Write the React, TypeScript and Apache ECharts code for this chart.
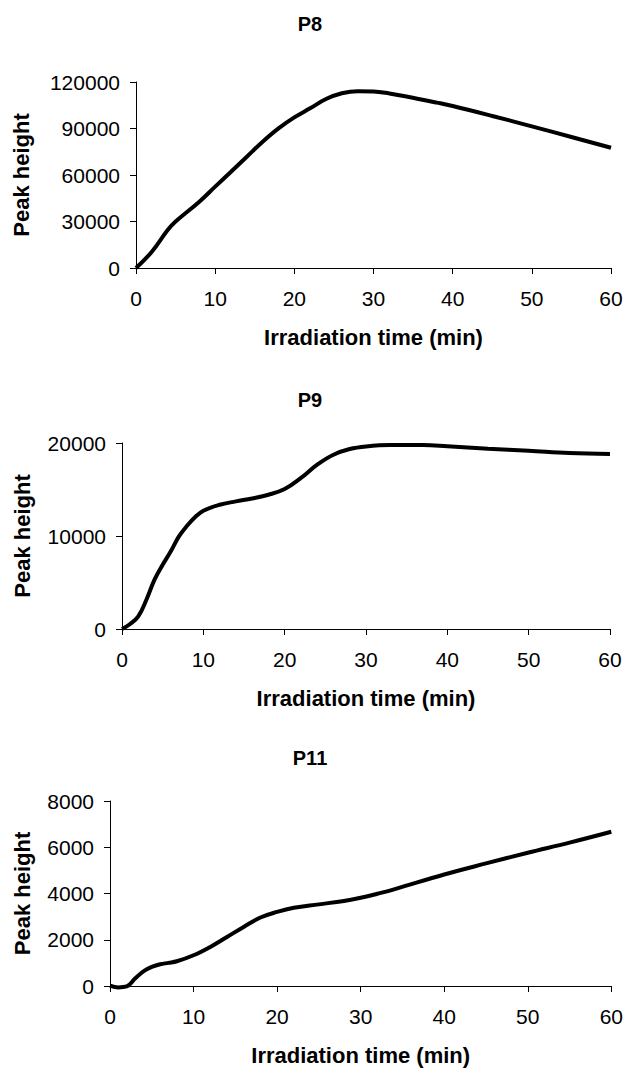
import React, { useEffect, useRef } from "react";
import * as echarts from "echarts";

const titles = ["P8", "P9", "P11"];
const xAxisName = "Irradiation time (min)";
const yAxisName = "Peak height";

const p8Time = [0, 2, 4, 5, 8, 10, 12, 14, 16, 18, 20, 22, 24, 26, 28, 30, 32, 34, 38, 40, 45, 50, 55, 60];
const p8Height = [0, 10500, 24500, 30000, 42800, 52500, 62100, 71800, 81500, 90100, 97200, 103000, 109000, 112700, 114100, 113900, 112600, 110800, 106700, 104500, 98100, 91400, 84500, 77600];

const p9Time = [0, 1, 2, 3, 4, 5, 6, 7, 8, 9, 10, 12, 14, 16, 18, 20, 22, 24, 26, 28, 30, 33, 37, 40, 45, 50, 55, 60];
const p9Height = [0, 540, 1360, 3150, 5300, 6900, 8350, 9960, 11100, 12040, 12720, 13360, 13720, 14040, 14440, 15050, 16240, 17670, 18740, 19350, 19630, 19780, 19780, 19650, 19380, 19170, 18930, 18820];

const p11Time = [0, 1, 2, 3, 4, 5, 6, 7, 8, 10, 12, 14, 16, 18, 20, 22, 25, 28, 30, 32, 34, 40, 45, 50, 55, 60];
const p11Height = [20, -60, -20, 320, 637, 823, 940, 1000, 1070, 1330, 1690, 2120, 2555, 2960, 3205, 3380, 3530, 3680, 3815, 3990, 4180, 4823, 5300, 5760, 6200, 6670];

const yMax = [120000, 20000, 8000];
const yInterval = [30000, 10000, 2000];

export default function App() {
  const ref = useRef<HTMLDivElement>(null);
  useEffect(() => {
    if (!ref.current) return;
    const chart = echarts.init(ref.current, null, { renderer: "svg" });
    const font = "'Liberation Sans', Arial, Helvetica, sans-serif";
    const grids = [
      { left: 136, right: 15, top: 82, bottom: 800 },
      { left: 122, right: 16, top: 443, bottom: 439 },
      { left: 110, right: 14, top: 801, bottom: 82 },
    ];
    const yNameGap = [104, 89, 77];
    const titleY = [24, 400, 758];
    const seriesData = [
      p8Time.map((t, i) => [t, p8Height[i]]),
      p9Time.map((t, i) => [t, p9Height[i]]),
      p11Time.map((t, i) => [t, p11Height[i]]),
    ];
    const axisLine = { show: true, lineStyle: { color: "#000", width: 1 } };
    const option: any = {
      animation: false,
      backgroundColor: "#fff",
      grid: grids.map((g) => ({ ...g, containLabel: false })),
      xAxis: grids.map((_, i) => ({
        type: "value",
        gridIndex: i,
        min: 0,
        max: 60,
        interval: 10,
        name: xAxisName,
        nameLocation: "middle",
        nameGap: 58,
        nameTextStyle: { fontFamily: font, fontWeight: "bold", fontSize: 22, color: "#000" },
        axisLine,
        axisTick: { show: true, length: 6, lineStyle: { color: "#000" } },
        axisLabel: { margin: 20, fontFamily: font, fontSize: 21, color: "#000", formatter: (v: number) => String(v) },
        splitLine: { show: false },
      })),
      yAxis: grids.map((_, i) => ({
        type: "value",
        gridIndex: i,
        min: 0,
        max: yMax[i],
        interval: yInterval[i],
        name: yAxisName,
        nameLocation: "middle",
        nameGap: yNameGap[i],
        nameRotate: 90,
        nameTextStyle: { fontFamily: font, fontWeight: "bold", fontSize: 22, color: "#000" },
        axisLine,
        axisTick: { show: true, length: 6, lineStyle: { color: "#000" } },
        axisLabel: { margin: 16, fontFamily: font, fontSize: 21, color: "#000", formatter: (v: number) => String(v) },
        splitLine: { show: false },
      })),
      series: seriesData.map((d, i) => ({
        type: "line",
        xAxisIndex: i,
        yAxisIndex: i,
        data: d,
        smooth: 0.4,
        showSymbol: false,
        symbol: "none",
        clip: false,
        lineStyle: { color: "#000", width: 4 },
      })),
      graphic: titles.map((t, i) => ({
        type: "text",
        x: 310,
        y: titleY[i],
        style: {
          text: t,
          fontFamily: font,
          fontWeight: "bold",
          fontSize: 20,
          fill: "#000",
          textAlign: "center",
          textVerticalAlign: "middle",
        },
      })),
    };
    chart.setOption(option);
    return () => chart.dispose();
  }, []);
  return (
    <div
      ref={ref}
      style={{ position: "absolute", left: 0, top: 0, width: 626, height: 1068, background: "#fff" }}
    />
  );
}
